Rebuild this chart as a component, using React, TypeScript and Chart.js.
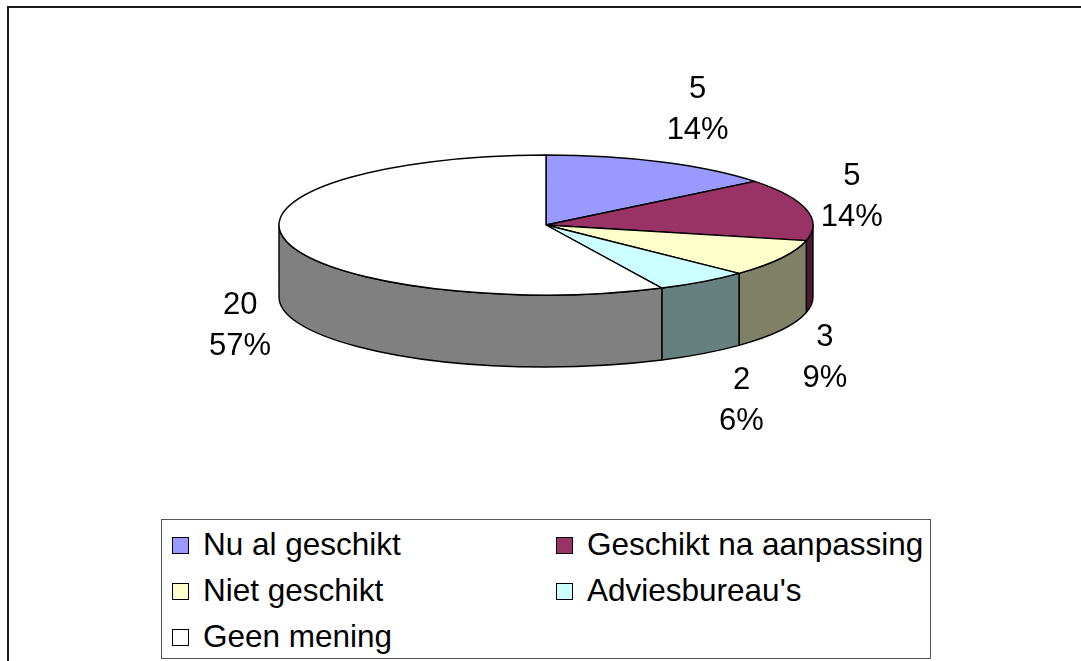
import { useEffect, useRef } from 'react';
import { Chart, registerables } from 'chart.js';

Chart.register(...registerables);

// ---- data ----
const categories = ['Nu al geschikt', 'Geschikt na aanpassing', 'Niet geschikt', "Adviesbureau's", 'Geen mening'];
const counts = [5, 5, 3, 2, 20];
const topColors = ['#9999FF', '#993366', '#FFFFCC', '#CCFFFF', '#FFFFFF'];
const sideColors = ['#4C4C80', '#4C1933', '#808066', '#668080', '#808080'];

// ---- style ----
const FONT = '"Liberation Sans", Arial, Helvetica, sans-serif';
const PIE_RADIUS = 267;
const TILT = 70 / 267;
const DEPTH = 72 / 267;
const LABEL_GAP_X = 18;
const LABEL_SHIFT_X = 28;
const LABEL_GAP_Y = 58;
const LABEL_LINE = 41;

const pie3d = {
  id: 'pie3d',
  beforeDatasetDraw(chart: any, args: any) {
    const meta = chart.getDatasetMeta(args.index);
    const arcs = meta.data;
    if (!arcs.length) return false;
    const ctx: CanvasRenderingContext2D = chart.ctx;
    const { x: cx, y: cy, outerRadius: rx } = arcs[0].getProps(['x', 'y', 'outerRadius'], true);
    const ry = rx * TILT;
    const depth = rx * DEPTH;
    const values: number[] = chart.data.datasets[args.index].data;
    const total = values.reduce((a: number, b: number) => a + b, 0);

    ctx.save();
    ctx.lineJoin = 'round';
    ctx.strokeStyle = '#000';
    ctx.lineWidth = 1.4;

    // outer walls (front half only)
    arcs.forEach((arc: any, i: number) => {
      const { startAngle, endAngle } = arc.getProps(['startAngle', 'endAngle'], true);
      const s = Math.max(startAngle, 0);
      const e = Math.min(endAngle, Math.PI);
      if (e <= s) return;
      ctx.beginPath();
      ctx.ellipse(cx, cy, rx, ry, 0, s, e, false);
      ctx.lineTo(cx + rx * Math.cos(e), cy + depth + ry * Math.sin(e));
      ctx.ellipse(cx, cy + depth, rx, ry, 0, e, s, true);
      ctx.closePath();
      ctx.fillStyle = sideColors[i];
      ctx.fill();
      ctx.stroke();
    });

    // top faces
    arcs.forEach((arc: any) => {
      const { startAngle, endAngle } = arc.getProps(['startAngle', 'endAngle'], true);
      ctx.beginPath();
      ctx.moveTo(cx, cy);
      ctx.ellipse(cx, cy, rx, ry, 0, startAngle, endAngle, false);
      ctx.closePath();
      ctx.fillStyle = arc.options.backgroundColor;
      ctx.fill();
      ctx.stroke();
    });

    // data labels
    ctx.fillStyle = '#000';
    ctx.font = `31px ${FONT}`;
    ctx.textAlign = 'center';
    ctx.textBaseline = 'middle';
    arcs.forEach((arc: any, i: number) => {
      const { startAngle, endAngle } = arc.getProps(['startAngle', 'endAngle'], true);
      const mid = (startAngle + endAngle) / 2;
      const c = Math.cos(mid);
      const sn = Math.sin(mid);
      const x = cx + (rx + LABEL_GAP_X) * c + LABEL_SHIFT_X * Math.sign(c);
      const y = cy + (ry + LABEL_GAP_Y) * sn + (sn > 0 ? depth : 0);
      const pct = Math.round((values[i] / total) * 100);
      ctx.fillText(String(values[i]), x, y - LABEL_LINE / 2);
      ctx.fillText(`${pct}%`, x, y + LABEL_LINE / 2);
    });

    ctx.restore();
    return false;
  },
};

export default function App() {
  const canvasRef = useRef<HTMLCanvasElement>(null);

  useEffect(() => {
    const canvas = canvasRef.current;
    if (!canvas) return;
    const chart = new Chart(canvas, {
      type: 'pie',
      data: {
        labels: categories,
        datasets: [
          {
            data: counts,
            backgroundColor: topColors,
            borderColor: '#000',
            borderWidth: 1,
          },
        ],
      },
      options: {
        animation: false,
        responsive: false,
        maintainAspectRatio: false,
        radius: PIE_RADIUS,
        layout: { padding: { left: 279, right: 268, top: 155, bottom: 366 } },
        plugins: {
          legend: { display: false },
          tooltip: { enabled: false },
        },
        events: [],
      } as any,
      plugins: [pie3d],
    });
    return () => chart.destroy();
  }, []);

  const rowCenters = [26, 72, 118];
  const colLeft = [11, 395];

  return (
    <div
      style={{
        position: 'fixed',
        left: 0,
        top: 0,
        width: 1081,
        height: 661,
        overflow: 'hidden',
        background: '#fff',
        fontFamily: FONT,
      }}
    >
      <div
        style={{
          position: 'absolute',
          left: 7,
          top: 6,
          width: 1200,
          height: 900,
          borderLeft: '2px solid #1a1a1a',
          borderTop: '2px solid #1a1a1a',
        }}
      />
      <canvas
        ref={canvasRef}
        width={1081}
        height={661}
        style={{ position: 'absolute', left: 0, top: 0, width: 1081, height: 661 }}
      />
      <div
        style={{
          position: 'absolute',
          left: 161,
          top: 519,
          width: 770,
          height: 140,
          boxSizing: 'border-box',
          border: '1px solid #555',
          background: '#fff',
        }}
      >
        {categories.map((name, i) => {
          const col = i % 2;
          const row = Math.floor(i / 2);
          return (
            <div
              key={name}
              style={{
                position: 'absolute',
                left: colLeft[col] - 1,
                top: rowCenters[row] - 18 - 1,
                height: 36,
                display: 'flex',
                alignItems: 'center',
                whiteSpace: 'nowrap',
              }}
            >
              <div
                style={{
                  width: 17,
                  height: 17,
                  boxSizing: 'border-box',
                  border: '1px solid #000',
                  background: topColors[i],
                  marginRight: 14,
                }}
              />
              <span style={{ fontSize: 31.5, lineHeight: 1, color: '#000' }}>{name}</span>
            </div>
          );
        })}
      </div>
    </div>
  );
}
